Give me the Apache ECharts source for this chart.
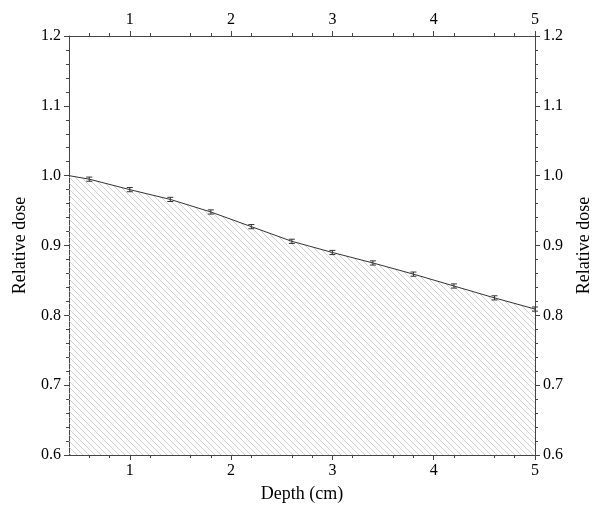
<!DOCTYPE html>
<html>
<head>
<meta charset="utf-8">
<script src="https://cdn.jsdelivr.net/npm/echarts@6/dist/echarts.min.js"></script>
<style>html,body{margin:0;padding:0;background:#fff}#main{width:612px;height:526px}</style>
</head>
<body>
<div id="main"></div>
<script>
var depth = [0.4, 0.6, 1.0, 1.4, 1.8, 2.2, 2.6, 3.0, 3.4, 3.8, 4.2, 4.6, 5.0];
var dose = [1.0, 0.995, 0.980, 0.966, 0.948, 0.927, 0.906, 0.890, 0.875, 0.859, 0.842, 0.825, 0.809];
var errDepth = [0.6, 1.0, 1.4, 1.8, 2.2, 2.6, 3.0, 3.4, 3.8, 4.2, 4.6, 5.0];
var errVal = [0.003, 0.003, 0.003, 0.003, 0.003, 0.003, 0.003, 0.003, 0.003, 0.003, 0.003, 0.003];

var pc = document.createElement('canvas');
pc.width = 6; pc.height = 6;
var g = pc.getContext('2d');
g.strokeStyle = '#c4c4c4';
g.lineWidth = 0.8;
g.beginPath();
g.moveTo(0, 0); g.lineTo(6, 6);
g.moveTo(-3, 3); g.lineTo(3, 9);
g.moveTo(3, -3); g.lineTo(9, 3);
g.stroke();

var font = 'Liberation Serif';
var axisCommon = {
    min: 0.4, max: 5, interval: 1,
    axisLine: {lineStyle: {color: '#444', width: 1}},
    minorTick: {show: true, splitNumber: 5, length: 3, lineStyle: {color: '#444'}},
    splitLine: {show: false},
    axisLabel: {color: '#000', fontFamily: font, fontSize: 16,
        customValues: [1, 2, 3, 4, 5]}
};
function yAxisOf(pos) {
    return {
        type: 'value', position: pos, min: 0.6, max: 1.2, interval: 0.1,
        name: 'Relative dose', nameLocation: 'middle', nameGap: 40,
        nameRotate: 90,
        nameTextStyle: {color: '#000', fontFamily: font, fontSize: 18},
        axisLine: {show: true, lineStyle: {color: '#444', width: 1}},
        axisTick: {show: true, length: 5, lineStyle: {color: '#444'}},
        minorTick: {show: true, splitNumber: 5, length: 3, lineStyle: {color: '#444'}},
        splitLine: {show: false},
        axisLabel: {color: '#000', fontFamily: font, fontSize: 16,
            formatter: function (v) { return v.toFixed(1); }}
    };
}
var xBottom = Object.assign({}, axisCommon, {
    type: 'value', position: 'bottom',
    name: 'Depth (cm)', nameLocation: 'middle', nameGap: 30,
    nameTextStyle: {color: '#000', fontFamily: font, fontSize: 18},
    axisTick: {customValues: [1, 2, 3, 4, 5], length: 5, lineStyle: {color: '#444'}}
});
var xTop = Object.assign({}, axisCommon, {
    type: 'value', position: 'top',
    axisTick: {customValues: [1, 2, 3, 4, 5], length: 5, lineStyle: {color: '#444'}}
});

var myeCharts = echarts.init(document.getElementById('main'));
var option = {
    animation: false,
    grid: {left: 69, right: 77, top: 36, bottom: 71},
    xAxis: [xBottom, xTop],
    yAxis: [yAxisOf('left'), yAxisOf('right')],
    series: [{
        type: 'line',
        data: depth.map(function (d, i) { return [d, dose[i]]; }),
        showSymbol: false,
        lineStyle: {color: '#333', width: 1},
        areaStyle: {color: {image: pc, repeat: 'repeat'}, opacity: 1, origin: 'start'}
    }, {
        type: 'custom',
        data: errDepth.map(function (d, i) { return [d, dose[i + 1], errVal[i]]; }),
        renderItem: function (params, api) {
            var x = api.value(0), y = api.value(1), e = api.value(2);
            var lo = api.coord([x, y - e]), hi = api.coord([x, y + e]);
            var w = 3;
            var st = {stroke: '#333', lineWidth: 1};
            return {type: 'group', children: [
                {type: 'line', shape: {x1: lo[0], y1: lo[1], x2: hi[0], y2: hi[1]}, style: st},
                {type: 'line', shape: {x1: lo[0] - w, y1: lo[1], x2: lo[0] + w, y2: lo[1]}, style: st},
                {type: 'line', shape: {x1: hi[0] - w, y1: hi[1], x2: hi[0] + w, y2: hi[1]}, style: st}
            ]};
        },
        z: 5
    }]
};
myeCharts.setOption(option);
</script>
</body>
</html>
